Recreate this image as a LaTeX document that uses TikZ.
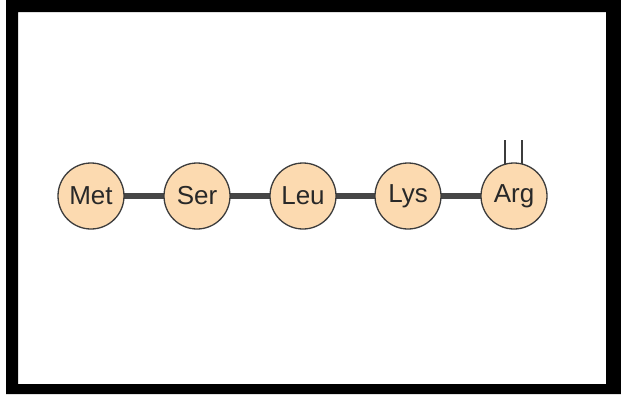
\documentclass[tikz,border=0pt]{standalone}
\usepackage{fontspec}
\setmainfont{Liberation Sans}
\definecolor{peach}{RGB}{252,218,176}
\definecolor{rim}{RGB}{60,60,60}
\definecolor{bond}{RGB}{70,70,70}
\definecolor{ink}{RGB}{40,40,40}
\begin{document}
\begin{tikzpicture}[x=1pt,y=-1pt,
  res/.style={circle,draw=rim,line width=1.3pt,fill=peach,minimum size=66pt,inner sep=0pt,text=ink,font=\fontsize{26}{26}\selectfont},
  bondline/.style={line width=5.5pt,draw=bond},
  stub/.style={line width=1.8pt,draw=rim}]
\useasboundingbox (0,0) rectangle (621,394);
\fill[white] (0,0) rectangle (621,394);
\fill[black,even odd rule] (6,0) rectangle (621,394) (18,12) rectangle (606,384);
\coordinate (met0) at (91,196);
\coordinate (ser0) at (197,196);
\coordinate (leu0) at (303,196);
\coordinate (lys0) at (408,196);
\coordinate (arg0) at (514,196);
\coordinate (s1) at (505,140);
\coordinate (s2) at (522,140);
\draw[bondline] (met0) -- (ser0) -- (leu0) -- (lys0) -- (arg0);
\draw[stub] (s1) -- (s1 |- arg0);
\draw[stub] (s2) -- (s2 |- arg0);
\node[res] (met) at (met0) {Met};
\node[res] (ser) at (ser0) {Ser};
\node[res] (leu) at (leu0) {Leu};
\node[res] (lys) at (lys0) {Lys};
\node[res] (arg) at (arg0) {Arg};
\end{tikzpicture}
\end{document}
